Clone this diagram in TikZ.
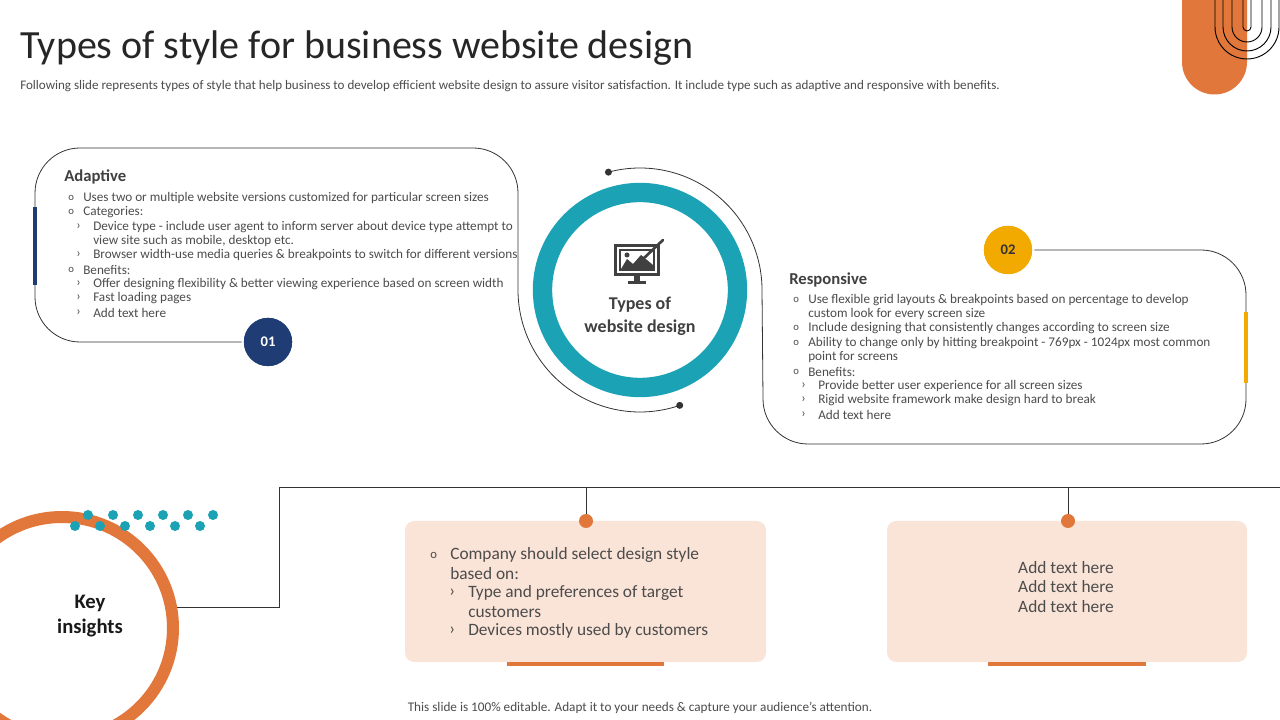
\documentclass[tikz,border=0pt]{standalone}
\usepackage{fontspec}
\usetikzlibrary{calc}
\setmainfont{Carlito}
\begin{document}
\begin{tikzpicture}[x=0.75pt,y=0.75pt,
  txt/.style={anchor=west,inner sep=0pt,text=black!70,font=\fontsize{9.9}{11}\selectfont},
  big/.style={inner sep=0pt,text=black!70,font=\fontsize{13}{15}\selectfont},
  outl/.style={draw=black!80,line width=0.6pt},
  peach/.style={fill=peachc,rounded corners=7pt,draw=none},
  bar/.style={fill=orangec,draw=none}]
\definecolor{orangec}{HTML}{E2773C}
\definecolor{tealc}{HTML}{1BA3B5}
\definecolor{bluec}{HTML}{1F3D74}
\definecolor{yellc}{HTML}{F2A900}
\definecolor{peachc}{HTML}{FAE3D7}
\useasboundingbox (0,0) rectangle (1280,720);
\clip (0,0) rectangle (1280,720);
\fill[white] (0,0) rectangle (1280,720);
\newcommand\mkO[3]{\node[txt] at (#1+4,#2) {\fontsize{8}{9}\selectfont o}; \node[txt] at (#1+19,#2) {#3};}
\newcommand\mkA[3]{\node[txt] at (#1,#2) {›}; \node[txt] at (#1+17,#2) {#3};}
% top right decoration
\fill[orangec] (1182,720) -- (1182,658) arc(180:360:32.5) -- (1247,720) -- cycle;
\foreach \r in {32,24,15,4} \draw[black,line width=0.7pt] (1247-\r,720) -- (1247-\r,693) arc(180:360:\r) -- (1247+\r,720);
% title
\node[anchor=west,inner sep=0pt,text=black!85,font=\fontsize{30}{33}\selectfont] (title) at (20,672) {Types of style for business website design};
\node[anchor=west,inner sep=0pt,text=black!70,font=\fontsize{9.8}{11}\selectfont] (sub) at (20,634) {Following slide represents types of style that help business to develop efficient website design to assure visitor satisfaction. It include type  such as adaptive and responsive with benefits.};
% left box outline
\coordinate (lb) at (245,378);
\draw[outl] (lb) -- (80,378) arc(270:180:45) -- (35,527) arc(180:90:45) -- (473,572) arc(90:0:45) -- (518,430) arc(180:289:122) coordinate (d1);
\fill[black!80] (d1) circle (3.5);
\draw[bluec,line width=3pt] (35,513) -- (35,435);
% right box outline
\coordinate (d2) at ($(640,430)+(105:122)$);
\draw[outl] (d2) arc(105:0:122) -- (763,321) arc(180:270:45) -- (1201,276) arc(270:360:45) -- (1246,425) arc(0:90:45) -- (1031,470);
\fill[black!80] (d2) circle (3.5);
\draw[yellc,line width=3pt] (1246,408) -- (1246,337);
% center ring
\draw[tealc,line width=14.5pt] (640,430) circle (97.5);
\node[inner sep=0pt,align=center,text=black!75,font=\bfseries\fontsize{13.5}{17}\selectfont] (ctr) at (640,404) {Types of\\website design};
% icon
\begin{scope}[shift={(637,458)}]
\fill[black!75] (-23,-14) rectangle (23,18);
\fill[white] (-20,-11) rectangle (20,15);
\fill[black!75] (-18,-9) rectangle (18,13);
\fill[white] (-16,-7) rectangle (16,11);
\fill[black!75] (-16,-7) -- (-10,3) -- (-4,-2) -- (4,7) -- (16,-3) -- (16,-7) -- cycle;
\fill[black!75] (-10,7) circle (2.5);
\fill[black!75] (-3,-14) rectangle (3,-19);
\fill[black!75] (-9,-19) rectangle (9,-22);
\draw[black!75,line width=2pt,line cap=round] (6,3) -- (26,22);
\end{scope}
% badges
\node[circle,fill=bluec,draw=white,line width=1.5pt,minimum size=38,inner sep=0pt,text=white,font=\bfseries\fontsize{11}{12}\selectfont] (b1) at (268,378) {01};
\draw[bluec,line width=0.6pt] (b1.center) circle (23.5);
\node[circle,fill=yellc,draw=white,line width=1.5pt,minimum size=38,inner sep=0pt,text=black!80,font=\bfseries\fontsize{11}{12}\selectfont] (b2) at (1008,470) {02};
\draw[yellc,line width=0.6pt] (b2.center) circle (23.5);
% left texts
\node[anchor=west,inner sep=0pt,text=black!75,font=\bfseries\fontsize{12.5}{14}\selectfont] (ta) at (64,543) {Adaptive};
\mkO{64}{522}{Uses two or multiple website versions customized for particular screen sizes}
\mkO{64}{508}{Categories:}
\mkA{76}{493}{Device type - include user agent to inform server about device type attempt to}
\node[txt] at (93,479) {view site such as mobile, desktop etc.};
\mkA{76}{465}{Browser width-use media queries \& breakpoints to switch for different versions}
\mkO{64}{450}{Benefits:}
\mkA{76}{436}{Offer designing flexibility \& better viewing experience based on screen width}
\mkA{76}{422}{Fast loading pages}
\mkA{76}{407}{Add text here}
% right texts
\node[anchor=west,inner sep=0pt,text=black!75,font=\bfseries\fontsize{12.5}{14}\selectfont] (tr) at (789,440) {Responsive};
\mkO{789}{420}{Use flexible grid layouts \& breakpoints based on percentage to develop}
\node[txt] at (808,406) {custom look for every screen size};
\mkO{789}{392}{Include designing that consistently changes according to screen size}
\mkO{789}{377}{Ability to change only by hitting breakpoint - 769px - 1024px most common}
\node[txt] at (808,363) {point for screens};
\mkO{789}{348}{Benefits:}
\mkA{801}{334}{Provide better user experience for all screen sizes}
\mkA{801}{320}{Rigid website framework make design hard to break}
\mkA{801}{305}{Add text here}
% bottom connectors
\coordinate (hl) at (279,233);
\coordinate (hr) at (1280,233);
\coordinate (kl) at (175,113);
\draw[outl] (hr) -- (hl) -- (279,113) -- (kl);
\coordinate (p1) at (586,199);
\coordinate (p2) at (1068,199);
\draw[outl] (586,233) -- (p1);
\draw[outl] (1068,233) -- (p2);
% boxes
\fill[bar] (507,54) rectangle (664,60);
\fill[bar] (988,54) rectangle (1146,60);
\fill[peach] (405,58) rectangle (766,199);
\fill[peach] (887,58) rectangle (1247,199);
\fill[orangec] (p1) circle (7);
\fill[orangec] (p2) circle (7);
\node[big,anchor=west] at (430,165) {\fontsize{9.5}{10}\selectfont o};
\node[big,anchor=west] at (450,165) {Company should select design style};
\node[big,anchor=west] at (450,146) {based on:};
\node[big,anchor=west] at (449,127) {›};
\node[big,anchor=west] at (468,127) {Type and preferences of target};
\node[big,anchor=west] at (468,108) {customers};
\node[big,anchor=west] at (449,89) {›};
\node[big,anchor=west] at (468,89) {Devices mostly used by customers};
\node[big,align=center,font=\fontsize{13}{14.3}\selectfont] (t2) at (1066,133) {Add text here\\Add text here\\Add text here};
% key insights
\draw[orangec,line width=9pt] (62,92) circle (111);
\foreach \x in {88,113,138,163,188,213} \fill[tealc] (\x,205) circle (5);
\foreach \x in {75,100,125,150,175,200} \fill[tealc] (\x,194) circle (5);
\node[inner sep=0pt,align=center,text=black!90,font=\bfseries\fontsize{15.5}{19}\selectfont] (ki) at (90,104) {Key\\insights};
% footer
\node[inner sep=0pt,text=black!70,font=\fontsize{9.9}{11}\selectfont] (foot) at (640,12) {This slide is 100\% editable. Adapt it to your needs \& capture your audience’s attention.};
\end{tikzpicture}
\end{document}
